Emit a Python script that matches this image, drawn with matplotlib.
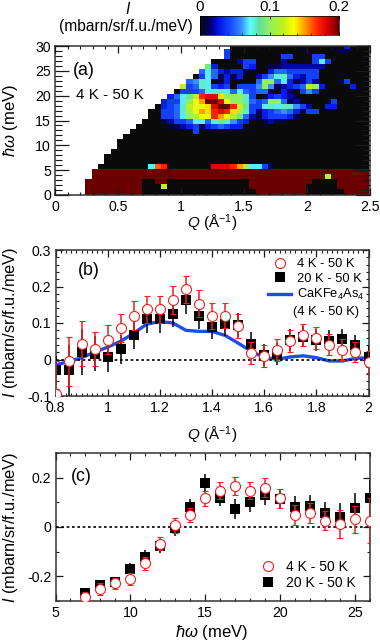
import numpy as np
import matplotlib
matplotlib.use("Agg")
import matplotlib.pyplot as plt
from matplotlib.colors import LinearSegmentedColormap
from matplotlib.lines import Line2D
from matplotlib.ticker import MultipleLocator

plt.rcParams['font.family'] = ['Liberation Sans', 'DejaVu Sans']
plt.rcParams['mathtext.fontset'] = 'custom'
plt.rcParams['mathtext.rm'] = 'Liberation Sans'
plt.rcParams['mathtext.it'] = 'Liberation Sans:italic'
plt.rcParams['axes.unicode_minus'] = False

W, H = 380, 643

# ---- panel (a): one row per energy bin, top row first, levels in 0.01 (base 36)
# first column holding data in each row, everything left of it is blank
HEAT_FIRST_COL = [28, 27, 27, 25, 24, 23, 22, 21, 20, 19, 18, 17, 16, 15, 15,
                  14, 13, 12, 11, 10, 10, 9, 8, 8, 7, 6, 6, 5, 5, 5]
HEAT_SEGMENTS = [
    [(46, "3")],
    [(27, "4"), (45, "11")],
    [(27, "4"), (36, "44"), (41, "44")],
    [(29, "244"), (36, "2"), (41, "474")],
    [(24, "93"), (30, "43"), (34, "112"), (37, "222222")],
    [(23, "57532331"), (34, "355"), (37, "44444")],
    [(22, ".4751313"), (32, "2467853244")],
    [(21, "5687.13"), (32, "5aa5731242"), (45, "14")],
    [(20, "c4587434.444"), (32, "6a612345ca3"), (47, "3")],
    [(19, ".444578875754"), (32, "551.31.464")],
    [(18, "3579chiieaaa84"), (32, ".134321")],
    [(17, "3447adfkkidaa85"), (32, "45aa512"), (43, "14")],
    [(16, ".3458cddeikkhc94"), (32, "478788642"), (43, "33")],
    [(15, "..4458bdfehiheb84"), (32, "1345653144")],
    [(15, "..4457abddhfdb952"), (32, "1344431")],
    [(17, "12445775898643"), (33, "1211")],
    [(18, "112341345433")],
    [(22, "4")],
    [], [], [], [], [], [],
    [(15, "7gh"), (25, "iiihfb7741")],
    [(6, "z" * 44)],
    [(6, "z" * 44), (43, "b")],
    [(5, "z" * 9), (16, "zz"), (31, "z" * 10), (45, "z" * 5)],
    [(5, "z" * 9), (17, "c"), (31, "z" * 9), (45, "z" * 5)],
    [(5, "z" * 9), (32, "z" * 8), (46, "z" * 4)],
]
HEAT_Q_EDGES = np.arange(51) * 0.05 - 0.008
HEAT_E_EDGES = np.r_[0, np.arange(1, 31) + 0.3]
CMAP_STOPS = [(0, '#0a0a0a'), (0.015, '#000070'), (0.025, '#0010e0'), (0.045, '#1850ff'),
              (0.06, '#3c90ff'), (0.072, '#60ffff'), (0.085, '#60e0a0'), (0.10, '#90f060'),
              (0.12, '#c0f020'), (0.135, '#ffff00'), (0.15, '#ffa000'), (0.17, '#ff2000'),
              (0.185, '#d00000'), (0.2, '#6b0000')]

# ---- panel (b)
Q = [0.8, 0.85, 0.9, 0.95, 1.0, 1.05, 1.1, 1.15, 1.2, 1.25, 1.3, 1.35, 1.4, 1.45, 1.5,
     1.55, 1.6, 1.65, 1.7, 1.75, 1.8, 1.85, 1.9, 1.95, 2.0]
B_4K = [-0.095, -0.005, 0.043, 0.028, 0.054, 0.086, 0.12, 0.138, 0.137, 0.163, 0.192, 0.153,
        0.12, 0.12, 0.093, 0.019, 0.01, 0.025, 0.05, 0.068, 0.059, 0.041, 0.027, 0.02, -0.006]
B_4K_ERR = [0.09, 0.068, 0.062, 0.047, 0.04, 0.039, 0.039, 0.037, 0.036, 0.038, 0.038, 0.037,
            0.036, 0.034, 0.033, 0.03, 0.03, 0.03, 0.03, 0.03, 0.03, 0.028, 0.028, 0.027, 0.03]
B_20K = [-0.03, -0.029, 0.02, 0.016, 0.007, 0.028, 0.066, 0.11, 0.11, 0.126, 0.163, 0.12,
         0.09, 0.097, 0.095, 0.043, 0.012, 0.016, 0.054, 0.063, 0.054, 0.052, 0.055, 0.039, 0.007]
B_20K_ERR = [0.04, 0.07, 0.063, 0.048, 0.041, 0.039, 0.037, 0.037, 0.037, 0.037, 0.038, 0.037,
             0.035, 0.033, 0.033, 0.032, 0.03, 0.03, 0.03, 0.03, 0.03, 0.028, 0.029, 0.028, 0.03]
B_CALC = [-0.015, -0.006, 0.005, 0.02, 0.034, 0.05, 0.072, 0.097, 0.104, 0.1, 0.08, 0.077,
          0.077, 0.066, 0.045, 0.023, 0.005, 0.001, 0.007, 0.01, 0.005, -0.004, -0.004, 0.003, 0.005]

# ---- panel (c)
E = [7, 8, 9, 10, 11, 12, 13, 14, 15, 16, 17, 18, 19, 20, 21, 22, 23, 24, 25, 26]
C_4K = [-0.282, -0.252, -0.229, -0.212, -0.147, -0.067, 0.007, 0.049, 0.116, 0.147, 0.166,
        0.147, 0.16, 0.116, 0.049, 0.058, 0.026, 0.012, 0.031, 0.026]
C_4K_ERR = [0.02, 0.025, 0.022, 0.025, 0.027, 0.028, 0.03, 0.03, 0.03, 0.035, 0.035,
            0.035, 0.04, 0.04, 0.04, 0.04, 0.04, 0.055, 0.055, 0.09]
C_20K = [-0.268, -0.235, -0.224, -0.171, -0.123, -0.077, -0.005, 0.08, 0.179, 0.119, 0.073,
         0.102, 0.129, 0.113, 0.08, 0.085, 0.058, 0.042, 0.078, 0.119]
C_20K_ERR = [0.018, 0.02, 0.022, 0.025, 0.03, 0.03, 0.03, 0.035, 0.035, 0.035, 0.04,
             0.04, 0.04, 0.04, 0.045, 0.045, 0.045, 0.055, 0.06, 0.07]

INK = '#1a1a1a'
RED = '#f02020'
BLUE = '#1f4fe0'
FS = 10.2        # tick labels
FS_LABEL = 11.8  # I (mbarn/...) labels
FS_AXIS = 12     # hbar omega and Q labels
FS_TAG = 12.8    # (a) (b) (c)


def axes_px(fig, left, top, right, bottom):
    return fig.add_axes([left / W, 1 - bottom / H, (right - left) / W, (bottom - top) / H])


def style(ax, major=(4.7, 4.7), minor=(2.2, 2.2)):
    for s in ax.spines.values():
        s.set_linewidth(1.1)
        s.set_color('#333333')
    ax.tick_params(which='major', axis='x', direction='in', top=True, bottom=True,
                   length=major[0], width=0.9, labelsize=FS, pad=3.5, color=INK)
    ax.tick_params(which='minor', axis='x', direction='in', top=True, bottom=True,
                   length=minor[0], width=0.8, color=INK)
    ax.tick_params(which='major', axis='y', direction='in', left=True, right=True,
                   length=major[1], width=0.9, labelsize=FS, pad=3, color=INK)
    ax.tick_params(which='minor', axis='y', direction='in', left=True, right=True,
                   length=minor[1], width=0.8, color=INK)


def draw_points(ax, x, y4, e4, y20, e20):
    ax.errorbar(x, y20, yerr=e20, fmt='s', color='black', ms=6.8, mew=0, elinewidth=1.1,
                capsize=2.2, capthick=1.1, zorder=4, clip_on=True)
    ax.errorbar(x, y4, yerr=e4, fmt='o', color=RED, mfc='white', mec=RED, ms=7.2, mew=0.8,
                elinewidth=1.1, capsize=2.2, capthick=1.1, zorder=5, clip_on=True)
    ax.axhline(0, color='black', lw=1.2, ls=(0, (1.6, 1.6)), zorder=3)


heat = np.full((30, 50), np.nan)
for r, first in enumerate(HEAT_FIRST_COL):
    heat[r, first:] = 0.0
    for start, chars in HEAT_SEGMENTS[r]:
        for k, ch in enumerate(chars):
            if ch != '.':
                heat[r, start + k] = int(ch, 36) * 0.01

cmap = LinearSegmentedColormap.from_list('ins', [(v / 0.2, c) for v, c in CMAP_STOPS])

fig = plt.figure(figsize=(W / 100, H / 100), dpi=100)

# panel (a)
ax = axes_px(fig, 55, 46, 370, 195)
ax.pcolormesh(HEAT_Q_EDGES, HEAT_E_EDGES, heat[::-1], cmap=cmap, vmin=0, vmax=0.2,
              shading='flat', rasterized=True)
ax.set_xlim(0, 2.5)
ax.set_ylim(0, 30)
ax.xaxis.set_major_locator(MultipleLocator(0.5))
ax.xaxis.set_minor_locator(MultipleLocator(0.1))
ax.yaxis.set_major_locator(MultipleLocator(5))
ax.yaxis.set_minor_locator(MultipleLocator(1))
ax.set_xticks([0, 0.5, 1, 1.5, 2, 2.5], ['0', '0.5', '1', '1.5', '2', '2.5'])
style(ax, major=(4.7, 10), minor=(2.2, 5))
ax.set_axisbelow(False)
ax.text(0.145, 25, '(a)', fontsize=FS_TAG, ha='left', va='center')
ax.text(0.165, 20.1, '4 K - 50 K', fontsize=10.9, ha='left', va='center')
fig.text(11 / W, 1 - 120 / H, r'$\hbar\omega$ (meV)', rotation=90, fontsize=FS_AXIS,
         ha='center', va='center')
fig.text(212 / W, 1 - 223 / H, r'$Q$ (Å$^{-1}$)', fontsize=FS_AXIS - 1, ha='center', va='center')

# colorbar
cax = axes_px(fig, 200, 16, 339, 35)
cax.imshow(np.linspace(0, 0.2, 256)[None, :], cmap=cmap, vmin=0, vmax=0.2, aspect='auto',
           extent=[0, 0.2, 0, 1])
cax.set_yticks([])
cax.set_xticks([0, 0.1, 0.2], ['0', '0.1', '0.2'])
cax.xaxis.set_minor_locator(MultipleLocator(0.02))
cax.tick_params(which='major', axis='x', top=True, bottom=True, labeltop=True, labelbottom=False,
                direction='in', length=2, width=0.6, labelsize=10.9, pad=1.5)
cax.tick_params(which='minor', axis='x', bottom=True, direction='in', length=1.5, width=0.5)
for s in cax.spines.values():
    s.set_linewidth(0.5)
fig.text(128 / W, 1 - 9 / H, r'$I$', fontsize=11.2, ha='center', va='center')
fig.text(126 / W, 1 - 26 / H, '(mbarn/sr/f.u./meV)', fontsize=11.2, ha='center', va='center')

# panel (b)
ax = axes_px(fig, 55.5, 250, 368.5, 396)
ax.plot(Q, B_CALC, color=BLUE, lw=2.4, zorder=2)
draw_points(ax, Q, B_4K, B_4K_ERR, B_20K, B_20K_ERR)
ax.set_xlim(0.8, 2)
ax.set_ylim(-0.1, 0.3)
ax.set_xticks([0.8, 1, 1.2, 1.4, 1.6, 1.8, 2], ['0.8', '1', '1.2', '1.4', '1.6', '1.8', '2'])
ax.set_yticks([-0.1, 0, 0.1, 0.2, 0.3], ['-0.1', '0', '0.1', '0.2', '0.3'])
ax.xaxis.set_minor_locator(MultipleLocator(0.02))
ax.yaxis.set_minor_locator(MultipleLocator(0.02))
style(ax)
ax.text(0.885, 0.243, '(b)', fontsize=FS_TAG, ha='left', va='center')
handles = [
    Line2D([], [], ls='', marker='o', mfc='white', mec=RED, ms=7.2, mew=0.8),
    Line2D([], [], ls='', marker='s', color='black', ms=6.8, mew=0),
    Line2D([], [], color=BLUE, lw=2.4),
]
ax.legend(handles, ['4 K - 50 K', '20 K - 50 K', r'CaKFe$_{\mathrm{4}}$As$_{\mathrm{4}}$'],
          loc='upper left', bbox_to_anchor=(0.679, 0.945), frameon=False, fontsize=9.3,
          handlelength=1.8, handletextpad=0.46, labelspacing=0.2, borderaxespad=0, borderpad=0)
ax.text(1.711, 0.129, '(4 K - 50 K)', fontsize=9.3, ha='left', va='center')
fig.text(11 / W, 1 - 322 / H, r'$I$ (mbarn/sr/f.u./meV)', rotation=90, fontsize=FS_LABEL,
         ha='center', va='center')
fig.text(212 / W, 1 - 435 / H, r'$Q$ (Å$^{-1}$)', fontsize=FS_AXIS - 1, ha='center', va='center')

# panel (c)
ax = axes_px(fig, 55.5, 453, 370, 601)
draw_points(ax, E, C_4K, C_4K_ERR, C_20K, C_20K_ERR)
ax.set_xlim(5, 26)
ax.set_ylim(-0.3, 0.3)
ax.set_xticks([5, 10, 15, 20, 25], ['5', '10', '15', '20', '25'])
ax.set_yticks([-0.2, 0, 0.2], ['-0.2', '0', '0.2'])
ax.xaxis.set_minor_locator(MultipleLocator(1))
ax.yaxis.set_minor_locator(MultipleLocator(0.1))
style(ax)
ax.text(6.0, 0.205, '(c)', fontsize=FS_TAG, ha='left', va='center')
ax.legend(handles[:2], ['4 K - 50 K', '20 K - 50 K'], loc='upper left',
          bbox_to_anchor=(0.639, 0.28), frameon=False, fontsize=10, handlelength=1.6,
          handletextpad=0.55, labelspacing=0.2, borderaxespad=0, borderpad=0)
fig.text(11 / W, 1 - 527 / H, r'$I$ (mbarn/sr/f.u./meV)', rotation=90, fontsize=FS_LABEL,
         ha='center', va='center')
fig.text(212 / W, 1 - 632 / H, r'$\hbar\omega$ (meV)', fontsize=FS_AXIS, ha='center', va='center')

fig.savefig('out.png', dpi=100)
